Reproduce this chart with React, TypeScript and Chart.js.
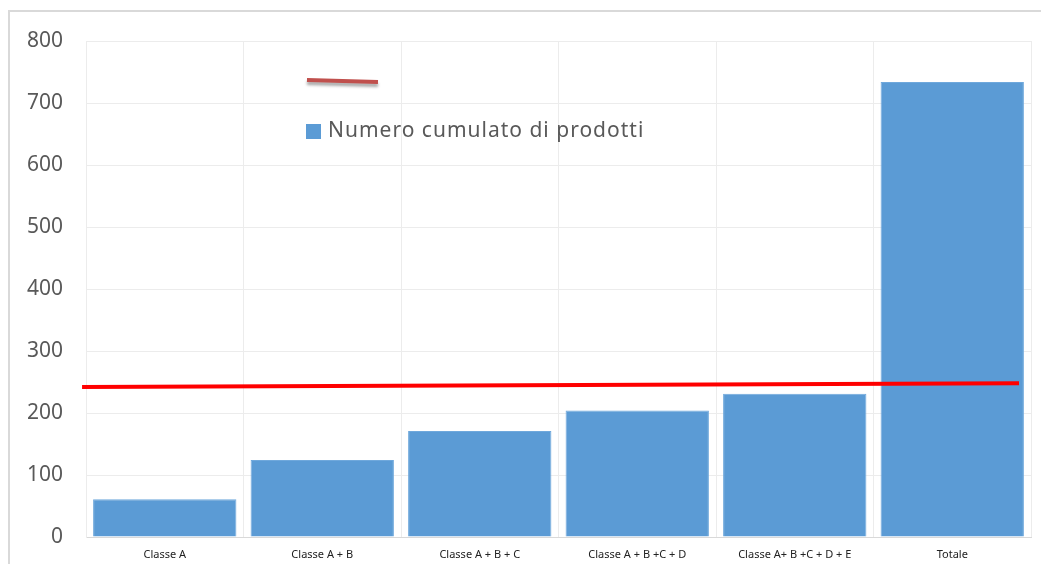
import React, { useEffect, useRef } from "react";
import { Chart, registerables } from "chart.js";

Chart.register(...registerables);

const categories = [
  "Classe A",
  "Classe A + B",
  "Classe A + B + C",
  "Classe A + B +C + D",
  "Classe A+ B +C + D + E",
  "Totale",
];
const cumulatedProducts = [61, 124, 171, 204, 231, 734];
const yTicks = [0, 100, 200, 300, 400, 500, 600, 700, 800];
const legendLabel = "Numero cumulato di prodotti";
// hand-drawn red threshold line (x in category units, 0..6 across the plot)
const redLineX = [-0.025, 5.924];
const redLineY = [242, 248];

const FONT = "'Noto Sans', 'Open Sans', sans-serif";

const legendPlugin = {
  id: "customLegend",
  afterDraw(chart: any) {
    const ctx = chart.ctx;
    const a = chart.chartArea;
    ctx.save();
    ctx.shadowColor = "rgba(0,0,0,0.35)";
    ctx.shadowBlur = 3;
    ctx.shadowOffsetY = 3;
    ctx.strokeStyle = "#c0504d";
    ctx.lineWidth = 4;
    ctx.beginPath();
    ctx.moveTo(a.left + 221, a.top + 39);
    ctx.lineTo(a.left + 292, a.top + 41);
    ctx.stroke();
    ctx.restore();

    ctx.save();
    ctx.fillStyle = "#5b9bd5";
    ctx.fillRect(a.left + 220, a.top + 83, 15, 15);
    ctx.fillStyle = "#595959";
    ctx.font = `21px ${FONT}`;
    try {
      (ctx as any).letterSpacing = "1px";
    } catch (e) {}
    ctx.textBaseline = "middle";
    ctx.textAlign = "left";
    ctx.fillText(legendLabel, a.left + 242, a.top + 90);
    ctx.restore();
  },
};

export default function App() {
  const ref = useRef<HTMLCanvasElement>(null);
  useEffect(() => {
    document.body.style.overflow = "hidden";
    const chart = new Chart(ref.current!, {
      type: "bar",
      data: {
        labels: categories,
        datasets: [
          {
            type: "bar",
            label: legendLabel,
            data: cumulatedProducts,
            backgroundColor: "#5b9bd5",
            borderColor: "#6fa8dc",
            borderWidth: 1,
            barPercentage: 0.91,
            categoryPercentage: 1,
            grouped: false,
            xAxisID: "x",
            order: 2,
          } as any,
          {
            type: "line",
            label: "soglia",
            data: redLineX.map((x, i) => ({ x, y: redLineY[i] })),
            borderColor: "#ff0000",
            borderWidth: 4,
            pointRadius: 0,
            xAxisID: "x2",
            clip: false,
            order: 0,
          } as any,
        ],
      },
      options: {
        animation: false,
        responsive: false,
        layout: { padding: { left: 0, right: 18, top: 29, bottom: 0 } },
        plugins: { legend: { display: false }, tooltip: { enabled: false } },
        scales: {
          x: {
            type: "category",
            grid: { color: "#ececec", drawTicks: false, offset: true },
            border: { color: "#d9d9d9" },
            ticks: {
              color: "#222",
              font: { size: 11, family: FONT },
              padding: 11,
              maxRotation: 0,
              autoSkip: false,
            },
            afterFit(scale: any) {
              scale.height = 27;
              scale.paddingLeft = 0;
              scale.paddingRight = 0;
            },
          },
          x2: {
            type: "linear",
            display: false,
            offset: false,
            min: 0,
            max: 6,
          },
          y: {
            min: 0,
            max: 800,
            afterBuildTicks(scale: any) {
              scale.ticks = yTicks.map((v) => ({ value: v }));
            },
            grid: { color: "#ececec", drawTicks: false },
            border: { color: "#ececec" },
            ticks: {
              color: "#595959",
              font: { size: 21, family: FONT },
              padding: 23,
            },
            afterFit(scale: any) {
              scale.width = 76;
              scale.paddingTop = 0;
              scale.paddingBottom = 0;
            },
          },
        },
      } as any,
      plugins: [legendPlugin],
    });
    return () => chart.destroy();
  }, []);
  return (
    <div
      style={{
        marginTop: 2,
        width: 1040,
        height: 552,
        borderTop: "2px solid #d9d9d9",
        borderLeft: "2px solid #d9d9d9",
      }}
    >
      <canvas ref={ref} width={1039} height={552} style={{ display: "block" }} />
    </div>
  );
}
